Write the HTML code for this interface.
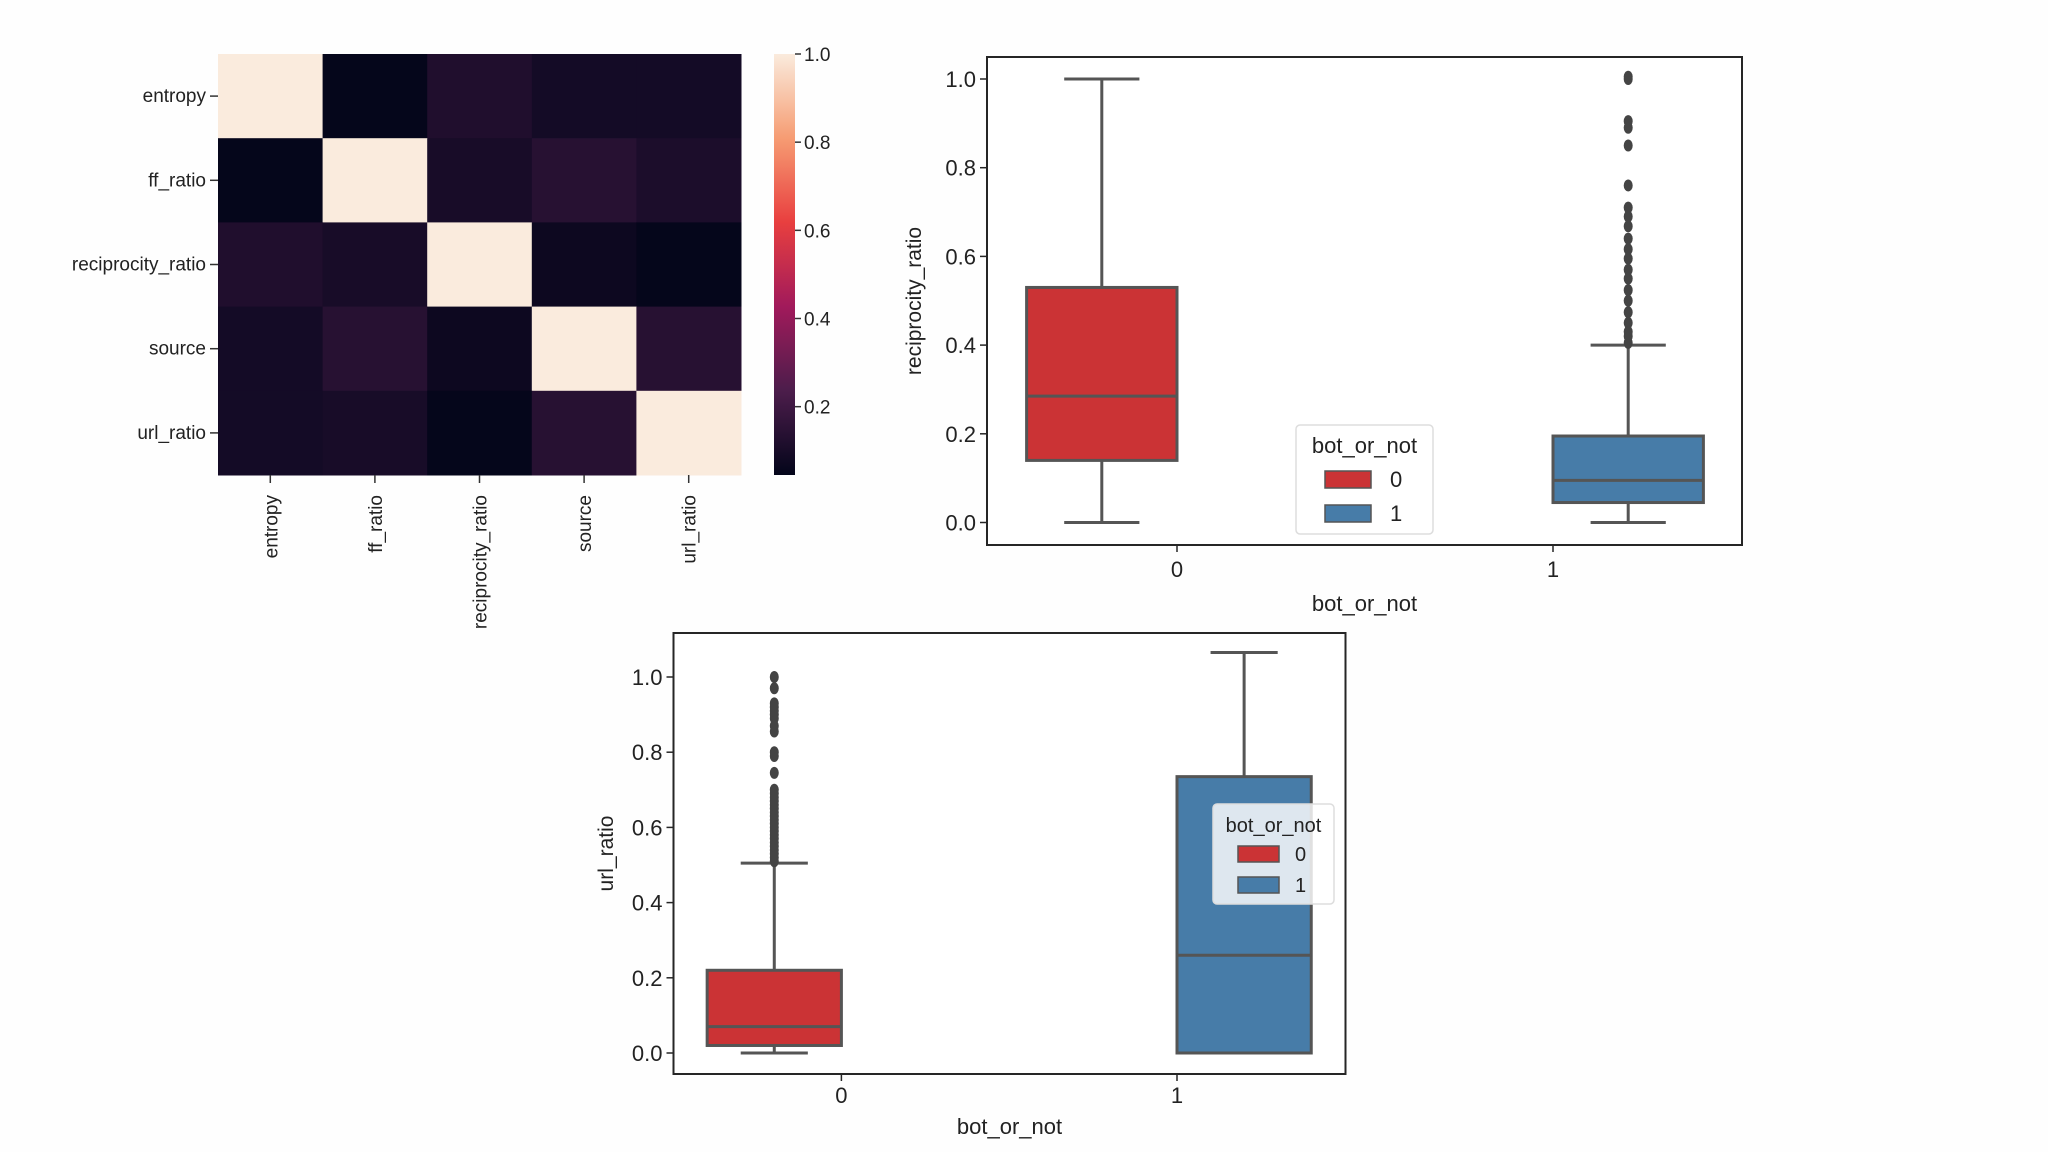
<!DOCTYPE html>
<html><head><meta charset="utf-8"><style>
html,body{margin:0;padding:0;background:#fefefe;}
svg{display:block;font-family:"Liberation Sans","DejaVu Sans",sans-serif;}
</style></head><body>
<svg id="s" width="2048" height="1152" viewBox="0 0 2048 1152" xmlns="http://www.w3.org/2000/svg">
<rect width="2048" height="1152" fill="#fefefe"/>
<g id="heat"></g>
<g id="box1"></g>
<g id="box2"></g>
</svg>
<script>
// ---------- data ----------
const heatLabels = ["entropy","ff_ratio","reciprocity_ratio","source","url_ratio"];
const heatRow0 = [1.0, 0.05, 0.12, 0.09, 0.09];
const heatRow1 = [0.05, 1.0, 0.10, 0.14, 0.11];
const heatRow2 = [0.12, 0.10, 1.0, 0.07, 0.05];
const heatRow3 = [0.09, 0.14, 0.07, 1.0, 0.14];
const heatRow4 = [0.09, 0.10, 0.05, 0.14, 1.0];
const cbarTicks = [0.2, 0.4, 0.6, 0.8, 1.0];

const boxCategories = ["0","1"];
const yTicks = [0.0, 0.2, 0.4, 0.6, 0.8, 1.0];
// reciprocity_ratio: [whiskerLow, q1, median, q3, whiskerHigh]
const recipBot0 = [0.0, 0.14, 0.285, 0.53, 1.0];
const recipBot1 = [0.0, 0.045, 0.095, 0.195, 0.40];
const recipOut1 = [0.405,0.42,0.43,0.45,0.474,0.50,0.524,0.55,0.57,0.595,0.616,0.64,0.668,0.69,0.71,0.76,0.85,0.89,0.905,1.0,1.005];
// url_ratio
const urlBot0 = [0.0, 0.02, 0.07, 0.22, 0.505];
const urlBot1 = [0.0, 0.0, 0.26, 0.735, 1.065];
const urlOut0 = [0.51,0.52,0.53,0.54,0.55,0.56,0.57,0.58,0.59,0.60,0.61,0.62,0.63,0.64,0.65,0.66,0.67,0.68,0.69,0.70,0.745,0.79,0.80,0.855,0.87,0.89,0.90,0.91,0.92,0.93,0.97,1.0];

const NS="http://www.w3.org/2000/svg";
function mk(parent, tag, attrs, text){
  const e=document.createElementNS(NS,tag);
  for(const k in attrs) e.setAttribute(k, attrs[k]);
  if(text!==undefined) e.textContent=text;
  parent.appendChild(e); return e;
}
const rocket=[[0,[3,5,26]],[0.2,[76,29,75]],[0.4,[161,26,91]],[0.6,[232,63,63]],[0.8,[246,156,115]],[1,[250,235,221]]];
function rc(t){t=Math.max(0,Math.min(1,t));for(let i=0;i<rocket.length-1;i++){const [a,ca]=rocket[i],[b,cb]=rocket[i+1];if(t<=b){const f=(t-a)/(b-a);return `rgb(${ca.map((c,j)=>Math.round(c+(cb[j]-c)*f)).join(',')})`;}}return 'rgb(250,235,221)';}

// ---------- heatmap ----------
(function(){
  const g=document.getElementById('heat');
  const X0=218,Y0=54,W=523,H=421,n=heatLabels.length,cw=W/n,ch=H/n;
  const vmin=0.045,vmax=1.0;
  const rows=[heatRow0,heatRow1,heatRow2,heatRow3,heatRow4];
  rows.forEach((row,i)=>row.forEach((v,j)=>{
    const r=mk(g,'rect',{x:X0+j*cw,y:Y0+i*ch,width:cw+0.5,height:ch+0.5,fill:rc((v-vmin)/(vmax-vmin))});
    
    
  }));
  heatLabels.forEach((l,i)=>{
    const y=Y0+(i+0.5)*ch;
    mk(g,'line',{x1:X0-8,x2:X0,y1:y,y2:y,stroke:'#333','stroke-width':1.5});
    const t=mk(g,'text',{x:X0-12,y:y+6,'text-anchor':'end','font-size':19,fill:'#222'},l);
    
    
    const x=X0+(i+0.5)*cw;
    mk(g,'line',{x1:x,x2:x,y1:Y0+H,y2:Y0+H+8,stroke:'#333','stroke-width':1.5});
    const t2=mk(g,'text',{x:0,y:0,'text-anchor':'end','font-size':19,fill:'#222',transform:`translate(${x+7},${Y0+H+20}) rotate(-90)`},l);
    
    
  });
  const cx=774,cwid=21;
  const defs=mk(g,'defs',{});
  const lg=mk(defs,'linearGradient',{id:'cb',x1:0,y1:1,x2:0,y2:0});
  for(let k=0;k<=20;k++){const t=k/20;mk(lg,'stop',{offset:t,'stop-color':rc(t)});}
  const cb=mk(g,'rect',{x:cx,y:Y0,width:cwid,height:H,fill:'url(#cb)'});
  
  
  cbarTicks.forEach(v=>{
    const y=Y0+H-(v-vmin)/(vmax-vmin)*H;
    mk(g,'line',{x1:cx+cwid,x2:cx+cwid+6,y1:y,y2:y,stroke:'#333','stroke-width':1.5});
    const t=mk(g,'text',{x:cx+cwid+9,y:y+7,'font-size':19,fill:'#222'},v.toFixed(1));
    
    
  });
})();

// ---------- box plot ----------
const RED='#cb3335', BLUE='#477ca8', LINE='#555555';
function boxplot(gid,cfg){
  const g=document.getElementById(gid);
  const {L,R,T,B,y0px,y1px,c0,c1,ylabel,stats,outliers,legend}=cfg;
  const ys=v=>y0px-(y0px-y1px)*v;
  const cats=[c0,c1];
  const xs=i=>cats[i];
  const sp=c1-c0;
  mk(g,'rect',{x:L,y:T,width:R-L,height:B-T,fill:'#fff',stroke:'#262626','stroke-width':2});
  yTicks.forEach(v=>{
    const y=ys(v);
    mk(g,'line',{x1:L-7,x2:L,y1:y,y2:y,stroke:'#262626','stroke-width':1.5});
    const t=mk(g,'text',{x:L-11,y:y+8,'text-anchor':'end','font-size':22,fill:'#222'},v.toFixed(1));
    
    
  });
  boxCategories.forEach((c,i)=>{
    const x=xs(i);
    mk(g,'line',{x1:x,x2:x,y1:B,y2:B+7,stroke:'#262626','stroke-width':1.5});
    const t=mk(g,'text',{x:x,y:B+cfg.tkoff,'text-anchor':'middle','font-size':22,fill:'#222'},c);
    
    
  });
  const yl=mk(g,'text',{x:0,y:0,'text-anchor':'middle','font-size':21,fill:'#222',transform:`translate(${cfg.ylx},${(T+B)/2}) rotate(-90)`},ylabel);
  
  
  const xl=mk(g,'text',{x:(L+R)/2,y:B+cfg.xloff,'text-anchor':'middle','font-size':22,fill:'#222'},'bot_or_not');
  
  
  const bw=sp*0.4, off=sp*0.2;
  stats.forEach((s,i)=>{
    const cx=xs(i)+(i===0?-off:off);
    const col=i===0?RED:BLUE;
    const bg=mk(g,'g',{});
    
    
    mk(bg,'line',{x1:cx,x2:cx,y1:ys(s[0]),y2:ys(s[1]),stroke:LINE,'stroke-width':3});
    mk(bg,'line',{x1:cx,x2:cx,y1:ys(s[3]),y2:ys(s[4]),stroke:LINE,'stroke-width':3});
    mk(bg,'line',{x1:cx-bw/4,x2:cx+bw/4,y1:ys(s[0]),y2:ys(s[0]),stroke:LINE,'stroke-width':3});
    mk(bg,'line',{x1:cx-bw/4,x2:cx+bw/4,y1:ys(s[4]),y2:ys(s[4]),stroke:LINE,'stroke-width':3});
    mk(bg,'rect',{x:cx-bw/2,y:ys(s[3]),width:bw,height:Math.max(ys(s[1])-ys(s[3]),1),fill:col,stroke:LINE,'stroke-width':3});
    mk(bg,'line',{x1:cx-bw/2,x2:cx+bw/2,y1:ys(s[2]),y2:ys(s[2]),stroke:LINE,'stroke-width':3});
    (outliers[i]||[]).forEach(v=>{
      const e=mk(bg,'ellipse',{cx:cx,cy:ys(v),rx:4.5,ry:6,fill:'#444'});
      
      
    });
  });
  const lgd=mk(g,'g',{});
  
  
  const l=legend;
  mk(lgd,'rect',{x:l.x,y:l.y,width:l.w,height:l.h,rx:4,fill:'rgba(255,255,255,0.82)',stroke:'#ddd','stroke-width':1.5});
  mk(lgd,'text',{x:l.x+l.w/2,y:l.y+28,'text-anchor':'middle','font-size':l.fs,fill:'#222'},'bot_or_not');
  [RED,BLUE].forEach((c,k)=>{
    const py=l.py+k*l.dy;
    const ent=mk(lgd,'g',{});
    
    
    mk(ent,'rect',{x:l.px,y:py,width:l.pw,height:l.ph,fill:c,stroke:LINE,'stroke-width':1.5});
    mk(ent,'text',{x:l.tx,y:py+l.ph-1,'font-size':l.fs,fill:'#222'},boxCategories[k]);
  });
}
boxplot('box1',{L:987,R:1742,T:57,B:545,y0px:522.5,y1px:79,c0:1177,c1:1553,ylx:921,tkoff:32,xloff:66,
  ylabel:'reciprocity_ratio',stats:[recipBot0,recipBot1],outliers:[[],recipOut1],
  legend:{x:1296,y:425,w:137,h:109,fs:22,px:1325,pw:46,ph:17,py:471,dy:34,tx:1390}});
boxplot('box2',{L:673.5,R:1345.5,T:633,B:1074,y0px:1053,y1px:677,c0:841.4,c1:1177,ylx:613,tkoff:29,xloff:60,
  ylabel:'url_ratio',stats:[urlBot0,urlBot1],outliers:[urlOut0,[]],
  legend:{x:1213,y:804,w:121,h:100,fs:20,px:1238,pw:41,ph:16,py:846,dy:31,tx:1295}});
</script>
</body></html>
